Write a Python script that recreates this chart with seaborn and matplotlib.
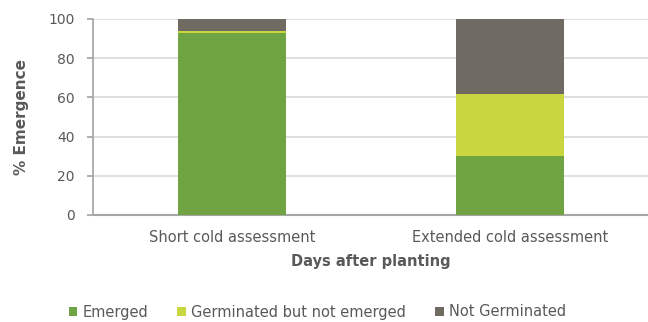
import matplotlib
matplotlib.use("Agg")
import matplotlib.pyplot as plt
from matplotlib.patches import Patch
import seaborn as sns
import pandas as pd

categories = ["Short cold assessment", "Extended cold assessment"]
emerged = [93.0, 30.3]
germinated_not_emerged = [1.0, 31.4]
not_germinated = [6.0, 38.3]

series_names = ["Emerged", "Germinated but not emerged", "Not Germinated"]
colors = ["#70a442", "#cad640", "#6f6b63"]

sns.set_theme(style="white")
plt.rcParams["font.family"] = ["DejaVu Sans"]
text_color = "#595959"

fig = plt.figure(figsize=(6.48, 3.22), dpi=100)
ax = fig.add_axes([93 / 648, 1 - 215 / 322, 556 / 648, 196 / 322])

# cumulative tops, drawn tallest first so lower segments sit on top
tops = [
    [a + b + c for a, b, c in zip(emerged, germinated_not_emerged, not_germinated)],
    [a + b for a, b in zip(emerged, germinated_not_emerged)],
    list(emerged),
]
for vals, col in zip(tops, colors[::-1]):
    df = pd.DataFrame({"category": categories, "value": vals})
    sns.barplot(data=df, x="category", y="value", color=col, width=0.39,
                saturation=1, ax=ax, zorder=3, linewidth=0)

ax.set_ylim(0, 100)
ax.set_yticks(range(0, 101, 20))
ax.yaxis.grid(True, color="#d9d9d9", linewidth=1.2, zorder=0)
ax.set_axisbelow(True)
for s in ["top", "right"]:
    ax.spines[s].set_visible(False)
ax.spines["left"].set_color("#a6a6a6")
ax.spines["bottom"].set_color("#a6a6a6")
ax.spines["bottom"].set_linewidth(1.5)
ax.tick_params(axis="y", left=True, length=4, color="#a6a6a6", labelsize=10,
               labelcolor=text_color, pad=9)
ax.tick_params(axis="x", bottom=False, labelsize=10.5, labelcolor=text_color, pad=5)

ax.set_ylabel("% Emergence", fontsize=11, fontweight="bold", color=text_color, labelpad=14)
ax.set_xlabel("Days after planting", fontsize=10.5, fontweight="bold", color=text_color, labelpad=6)

handles = [Patch(facecolor=c, edgecolor="none") for c in colors]
fig.legend(handles, series_names, loc="center", bbox_to_anchor=(0.49, 1 - 312 / 322),
           ncol=3, frameon=False, fontsize=10.5, labelcolor=text_color,
           handlelength=0.6, handleheight=0.6, handletextpad=0.35, columnspacing=2.0)

fig.savefig("out.png", dpi=100)
